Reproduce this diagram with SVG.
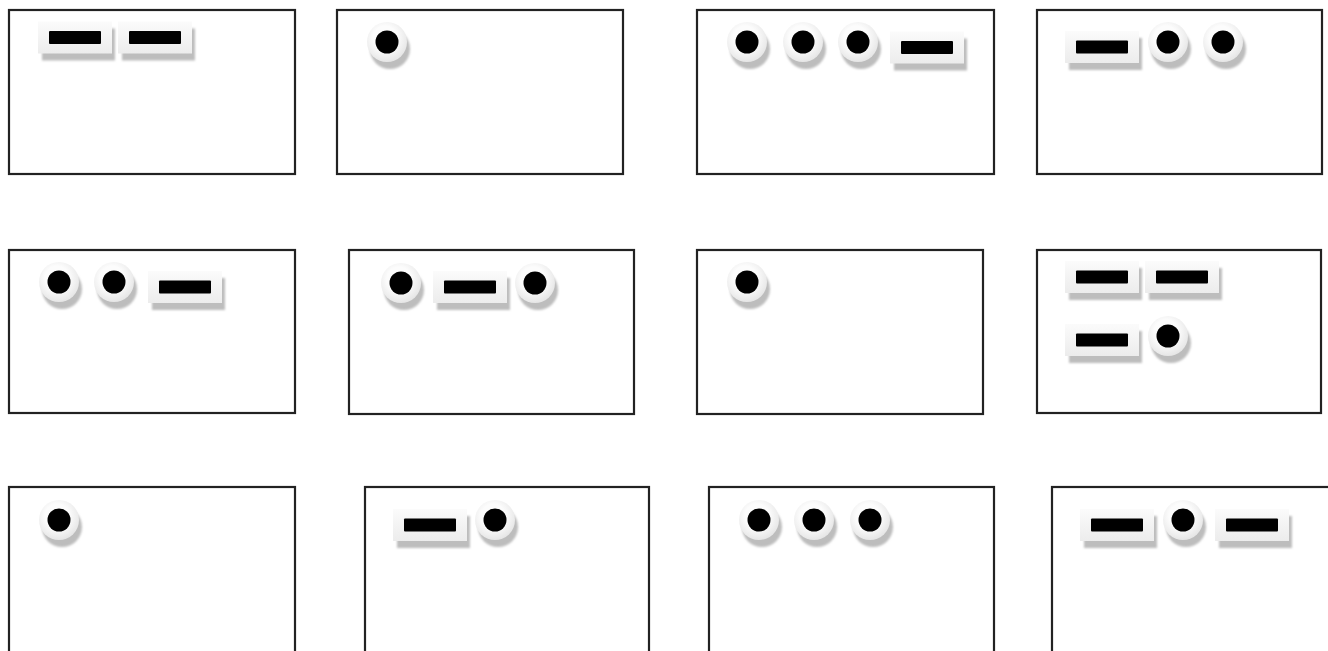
<svg xmlns="http://www.w3.org/2000/svg" xmlns:xlink="http://www.w3.org/1999/xlink" width="1328" height="651" viewBox="0 0 1328 651">
  <style>
    .box { fill: #ffffff; stroke: #222222; stroke-width: 2.2; }
    .shadow { fill: #bdbdbd; }
    .tile { fill: url(#tileGrad); }
    .ink { fill: #000000; }
  </style>
  <defs>
    <linearGradient id="tileGrad" x1="0" y1="0" x2="0" y2="1">
      <stop offset="0" stop-color="#fbfbfb"/>
      <stop offset="1" stop-color="#ececec"/>
    </linearGradient>
    <radialGradient id="haloGrad" cx="0.45" cy="0.4" r="0.6">
      <stop offset="0.5" stop-color="#fcfcfc"/>
      <stop offset="1" stop-color="#e6e6e6"/>
    </radialGradient>
    <filter id="soft" x="-20%" y="-20%" width="140%" height="140%">
      <feGaussianBlur stdDeviation="0.8"/>
    </filter>
    <g id="dash">
      <rect class="shadow" x="-33" y="-9" width="73" height="32" filter="url(#soft)"/>
      <rect class="tile" x="-37" y="-16" width="74" height="32"/>
      <rect class="ink" x="-26" y="-6.5" width="52" height="13" rx="1"/>
    </g>
    <g id="dot">
      <circle class="shadow" cx="3" cy="7" r="20" filter="url(#soft)"/>
      <circle cx="0" cy="0" r="20" fill="url(#haloGrad)"/>
      <circle class="ink" cx="0" cy="0" r="11.5"/>
    </g>
  </defs>

  <g id="connectors"/>

  <g id="panel1">
    <rect class="box" x="9" y="10" width="286" height="164"/>
    <use xlink:href="#dash" x="75" y="37.5"/>
    <use xlink:href="#dash" x="155" y="37.5"/>
  </g>
  <g id="panel2">
    <rect class="box" x="337" y="10" width="286" height="164"/>
    <use xlink:href="#dot" x="387" y="42"/>
  </g>
  <g id="panel3">
    <rect class="box" x="697" y="10" width="297" height="164"/>
    <use xlink:href="#dot" x="747" y="42"/>
    <use xlink:href="#dot" x="803" y="42"/>
    <use xlink:href="#dot" x="858" y="42"/>
    <use xlink:href="#dash" x="927" y="47.5"/>
  </g>
  <g id="panel4">
    <rect class="box" x="1037" y="10" width="285" height="164"/>
    <use xlink:href="#dash" x="1102" y="47"/>
    <use xlink:href="#dot" x="1168" y="42"/>
    <use xlink:href="#dot" x="1223" y="42"/>
  </g>

  <g id="panel5">
    <rect class="box" x="9" y="250" width="286" height="163"/>
    <use xlink:href="#dot" x="59" y="282"/>
    <use xlink:href="#dot" x="114" y="282"/>
    <use xlink:href="#dash" x="185" y="287"/>
  </g>
  <g id="panel6">
    <rect class="box" x="349" y="250" width="285" height="164"/>
    <use xlink:href="#dot" x="401" y="283"/>
    <use xlink:href="#dash" x="470" y="287"/>
    <use xlink:href="#dot" x="535" y="283"/>
  </g>
  <g id="panel7">
    <rect class="box" x="697" y="250" width="286" height="164"/>
    <use xlink:href="#dot" x="747" y="282"/>
  </g>
  <g id="panel8">
    <rect class="box" x="1037" y="250" width="284" height="163"/>
    <use xlink:href="#dash" x="1102" y="277"/>
    <use xlink:href="#dash" x="1182" y="277"/>
    <use xlink:href="#dash" x="1102" y="340"/>
    <use xlink:href="#dot" x="1168" y="336"/>
  </g>

  <g id="panel9">
    <rect class="box" x="9" y="487" width="286" height="180"/>
    <use xlink:href="#dot" x="59" y="520"/>
  </g>
  <g id="panel10">
    <rect class="box" x="365" y="487" width="284" height="180"/>
    <use xlink:href="#dash" x="430" y="525"/>
    <use xlink:href="#dot" x="495" y="520"/>
  </g>
  <g id="panel11">
    <rect class="box" x="709" y="487" width="285" height="180"/>
    <use xlink:href="#dot" x="759" y="520"/>
    <use xlink:href="#dot" x="814" y="520"/>
    <use xlink:href="#dot" x="870" y="520"/>
  </g>
  <g id="panel12">
    <rect class="box" x="1052" y="487" width="300" height="180"/>
    <use xlink:href="#dash" x="1117" y="525"/>
    <use xlink:href="#dot" x="1183" y="520"/>
    <use xlink:href="#dash" x="1252" y="525"/>
  </g>
</svg>
